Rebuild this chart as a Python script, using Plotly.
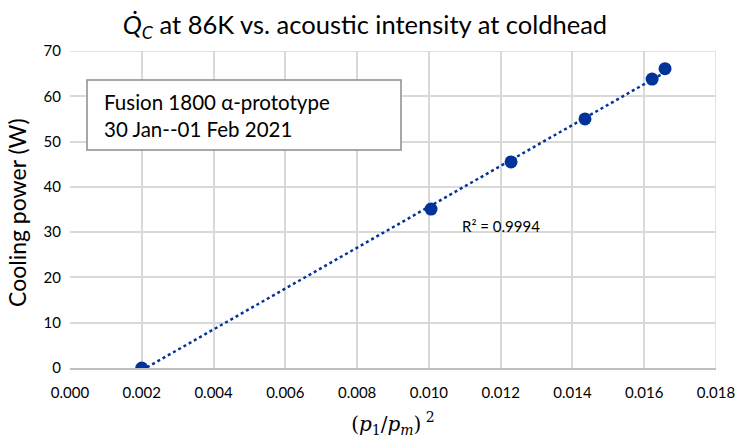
import numpy as np
import plotly.graph_objects as go

# Data
x_vals = [0.0020, 0.01006, 0.01229, 0.01435, 0.01622, 0.01658]
y_vals = [0.0, 35.1, 45.5, 55.0, 63.8, 66.1]
x_ticks = [0.000, 0.002, 0.004, 0.006, 0.008, 0.010, 0.012, 0.014, 0.016, 0.018]
x_tick_labels = ["0.000", "0.002", "0.004", "0.006", "0.008", "0.010", "0.012", "0.014", "0.016", "0.018"]
y_ticks = [0, 10, 20, 30, 40, 50, 60, 70]
r2_text = "R² = 0.9994"
box_lines = ["Fusion 1800 α-prototype", "30 Jan--01 Feb 2021"]
y_title = "Cooling power (W)"

# Linear trendline
coef = np.polyfit(x_vals, y_vals, 1)
tx = [min(x_vals), max(x_vals)]
ty = [coef[0] * v + coef[1] for v in tx]

blue = "#013398"
font_main = "Lato, 'Open Sans', sans-serif"

fig = go.Figure()
fig.add_trace(go.Scatter(x=tx, y=ty, mode="lines",
                         line=dict(color=blue, width=2.5, dash="dot"),
                         hoverinfo="skip", showlegend=False))
fig.add_trace(go.Scatter(x=x_vals, y=y_vals, mode="markers",
                         marker=dict(color=blue, size=13),
                         showlegend=False))

fig.update_layout(
    width=735, height=441,
    margin=dict(l=70, r=19, t=51, b=73),
    paper_bgcolor="white", plot_bgcolor="white",
    font=dict(family=font_main, color="#000000", size=15),
    showlegend=False,
    title=dict(
        text="<i>Q̇</i><sub><i>C</i></sub> at 86K vs. acoustic intensity at coldhead",
        x=365 / 735, xanchor="center", y=1 - 25 / 441, yanchor="middle",
        font=dict(size=25.5, color="#000000", family=font_main),
    ),
    xaxis=dict(
        range=[-1e-7, 0.0180001], tickvals=x_ticks, ticktext=x_tick_labels,
        showgrid=True, gridcolor="#d9d9d9", gridwidth=1.5,
        zeroline=False, showline=True, linecolor="#bfbfbf", linewidth=1.5,
        ticks="", ticklabelstandoff=10, tickfont=dict(size=15, color="#000000"),
        ticklabeloverflow="allow", automargin=False,
        title=dict(
            text="(<i>p</i><sub>1</sub>/<i>p</i><sub><i>m</i></sub>)<sup> 2</sup>",
            font=dict(family="'DejaVu Serif', serif", size=20, color="#000000"),
            standoff=17,
        ),
    ),
    yaxis=dict(
        range=[0, 70], tickvals=y_ticks, automargin=False,
        showgrid=True, gridcolor="#d9d9d9", gridwidth=1.5,
        zeroline=False, showline=False,
        ticks="", ticklabelstandoff=8, tickfont=dict(size=15, color="#000000"),
    ),
    shapes=[
        dict(type="line", xref="x", yref="y", x0=0.018, x1=0.018, y0=0, y1=70,
             line=dict(color="#d9d9d9", width=1.5)),
        dict(type="line", xref="x", yref="y", x0=0, x1=0.018, y0=70, y1=70,
             line=dict(color="#d9d9d9", width=1.5)),
        dict(type="rect", xref="paper", yref="paper",
             x0=(87 - 70) / 646, x1=(401 - 70) / 646,
             y0=(368 - 150) / 317, y1=(368 - 80) / 317,
             line=dict(color="#8c8c8c", width=1.5), fillcolor="white", layer="above"),
    ],
    annotations=[
        dict(xref="paper", yref="paper", x=(102 - 70) / 646, y=(368 - 116) / 317,
             xanchor="left", yanchor="middle", align="left",
             text="<br>".join(box_lines), showarrow=False,
             font=dict(size=20.5, color="#000000", family=font_main)),
        dict(xref="paper", yref="paper", x=(460 - 70) / 646, y=(368 - 226) / 317,
             xanchor="left", yanchor="middle", text=r2_text, showarrow=False,
             font=dict(size=15, color="#000000", family=font_main)),
        dict(xref="paper", yref="paper", x=(17 - 70) / 646, y=(368 - 213) / 317,
             xanchor="center", yanchor="middle", text=y_title, textangle=-90,
             showarrow=False, font=dict(size=23, color="#000000", family=font_main)),
    ],
)

fig.write_html("out.html")
